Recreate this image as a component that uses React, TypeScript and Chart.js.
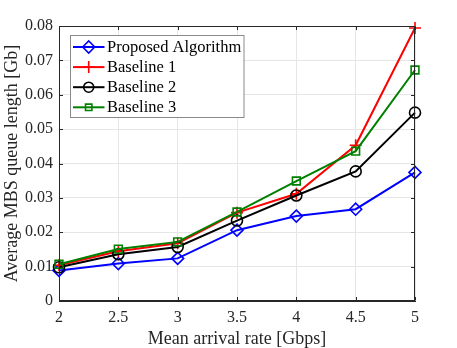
import React, { useEffect, useRef } from 'react';
import { Chart, registerables } from 'chart.js';

Chart.register(...registerables);

// ---- data ----
const xValues = [2, 2.5, 3, 3.5, 4, 4.5, 5];
const proposed = [0.0089, 0.0109, 0.0124, 0.0206, 0.0247, 0.0267, 0.0374];
const baseline1 = [0.0104, 0.0145, 0.0168, 0.0257, 0.0312, 0.0453, 0.0794];
const baseline2 = [0.0098, 0.0136, 0.0157, 0.0234, 0.0307, 0.0377, 0.0548];
const baseline3 = [0.0107, 0.0151, 0.0172, 0.0259, 0.0349, 0.0436, 0.0672];
const seriesLabels = ['Proposed Algorithm', 'Baseline 1', 'Baseline 2', 'Baseline 3'];
const xTicks = [2, 2.5, 3, 3.5, 4, 4.5, 5];
const xTickLabels = ['2', '2.5', '3', '3.5', '4', '4.5', '5'];
const yTicks = [0, 0.01, 0.02, 0.03, 0.04, 0.05, 0.06, 0.07, 0.08];
const yTickLabels = ['0', '0.01', '0.02', '0.03', '0.04', '0.05', '0.06', '0.07', '0.08'];
const xTitle = 'Mean arrival rate [Gbps]';
const yTitle = 'Average MBS queue length [Gb]';

const FONT = "'Liberation Serif', 'Times New Roman', serif";
const AXIS = '#262626';
const colors = ['#0000ff', '#ff0000', '#000000', '#008000'];
const styles = ['rectRot', 'cross', 'circle', 'rect'];
const radii = [6, 6, 5.5, 5.5];

function drawMarker(ctx: CanvasRenderingContext2D, style: string, x: number, y: number, r: number) {
  ctx.beginPath();
  if (style === 'rectRot') {
    ctx.moveTo(x - r, y);
    ctx.lineTo(x, y - r);
    ctx.lineTo(x + r, y);
    ctx.lineTo(x, y + r);
    ctx.closePath();
  } else if (style === 'cross') {
    ctx.moveTo(x - r, y);
    ctx.lineTo(x + r, y);
    ctx.moveTo(x, y - r);
    ctx.lineTo(x, y + r);
  } else if (style === 'circle') {
    ctx.arc(x, y, r, 0, Math.PI * 2);
  } else {
    const s = r * Math.SQRT1_2;
    ctx.rect(x - s, y - s, 2 * s, 2 * s);
  }
  ctx.stroke();
}

const decorPlugin = {
  id: 'decor',
  afterDraw(chart: any) {
    const { ctx, chartArea: a, scales } = chart;
    const xs = scales.x;
    const ys = scales.y;
    ctx.save();
    ctx.strokeStyle = AXIS;
    ctx.lineWidth = 1;
    const L = Math.round(a.left) + 0.5;
    const R = Math.round(a.right) - 0.5;
    const T = Math.round(a.top) + 0.5;
    const B = Math.round(a.bottom) - 0.5;
    ctx.strokeRect(L, T, R - L, B - T);
    const tl = 3.5;
    ctx.beginPath();
    xTicks.forEach((v) => {
      const px = Math.round(xs.getPixelForValue(v)) + 0.5;
      ctx.moveTo(px, B);
      ctx.lineTo(px, B - tl);
      ctx.moveTo(px, T);
      ctx.lineTo(px, T + tl);
    });
    yTicks.forEach((v) => {
      const py = Math.round(ys.getPixelForValue(v)) + 0.5;
      ctx.moveTo(L, py);
      ctx.lineTo(L + tl, py);
      ctx.moveTo(R, py);
      ctx.lineTo(R - tl, py);
    });
    ctx.stroke();

    // legend
    const bx = 70.5, by = 35.5, bw = 173.5, bh = 82;
    ctx.fillStyle = '#ffffff';
    ctx.fillRect(bx, by, bw, bh);
    ctx.strokeStyle = '#8a8a8a';
    ctx.lineWidth = 1;
    ctx.strokeRect(bx, by, bw, bh);
    ctx.font = `16.5px ${FONT}`;
    ctx.textBaseline = 'middle';
    ctx.textAlign = 'left';
    chart.data.datasets.forEach((ds: any, i: number) => {
      const y = 47 + i * 20.1;
      ctx.strokeStyle = colors[i];
      ctx.lineWidth = 2;
      ctx.beginPath();
      ctx.moveTo(73, y);
      ctx.lineTo(104.5, y);
      ctx.stroke();
      ctx.lineWidth = 1.6;
      drawMarker(ctx, styles[i], 88.7, y, i === 3 ? 4.5 : i === 2 ? 5 : 6);
      ctx.fillStyle = '#000000';
      ctx.fillText(ds.label, 107, y + 0.5);
    });
    ctx.restore();
  },
};

export default function App() {
  const ref = useRef<HTMLCanvasElement>(null);

  useEffect(() => {
    if (!ref.current) return;
    const series = [proposed, baseline1, baseline2, baseline3];
    const datasets = series.map((vals, i) => ({
      label: seriesLabels[i],
      data: xValues.map((x, j) => ({ x, y: vals[j] })),
      borderColor: colors[i],
      backgroundColor: 'rgba(0,0,0,0)',
      borderWidth: 2,
      pointStyle: styles[i],
      pointRadius: radii[i],
      pointBorderWidth: 1.6,
      pointBorderColor: colors[i],
      pointBackgroundColor: 'rgba(0,0,0,0)',
      tension: 0,
      clip: false,
      order: 3 - i,
    }));

    const chart = new Chart(ref.current, {
      type: 'line',
      data: { datasets } as any,
      plugins: [decorPlugin],
      options: {
        animation: false,
        responsive: false,
        devicePixelRatio: 1,
        layout: { padding: { left: 0, right: 42, top: 26, bottom: 0 } },
        plugins: { legend: { display: false }, tooltip: { enabled: false } },
        scales: {
          x: {
            type: 'linear',
            min: 2,
            max: 5,
            afterBuildTicks: (s: any) => {
              s.ticks = xTicks.map((v) => ({ value: v }));
            },
            afterFit: (s: any) => {
              s.height = 47;
            },
            ticks: {
              padding: 7,
              maxRotation: 0,
              autoSkip: false,
              color: AXIS,
              font: { family: FONT, size: 16 },
              callback: (_v: any, i: number) => xTickLabels[i],
            },
            grid: { color: '#e6e6e6', drawTicks: false, lineWidth: 1 },
            border: { display: true, color: AXIS, width: 1 },
            title: {
              display: true,
              text: xTitle,
              color: AXIS,
              font: { family: FONT, size: 18, lineHeight: 1 },
              padding: { top: 0, bottom: 0 },
            },
          },
          y: {
            type: 'linear',
            min: 0,
            max: 0.08,
            afterBuildTicks: (s: any) => {
              s.ticks = yTicks.map((v) => ({ value: v }));
            },
            afterFit: (s: any) => {
              s.width = 59;
            },
            ticks: {
              padding: 6,
              autoSkip: false,
              color: AXIS,
              font: { family: FONT, size: 16 },
              callback: (_v: any, i: number) => yTickLabels[i],
            },
            grid: { color: '#e6e6e6', drawTicks: false, lineWidth: 1 },
            border: { display: true, color: AXIS, width: 1 },
            title: {
              display: true,
              text: yTitle,
              color: AXIS,
              font: { family: FONT, size: 18, lineHeight: 1 },
              padding: { top: 3.5, bottom: 0 },
            },
          },
        },
      } as any,
    });
    return () => chart.destroy();
  }, []);

  return (
    <div style={{ position: 'fixed', left: 0, top: 0, width: 457, height: 348, background: '#ffffff' }}>
      <canvas ref={ref} width={457} height={348} style={{ display: 'block', width: 457, height: 348 }} />
    </div>
  );
}
